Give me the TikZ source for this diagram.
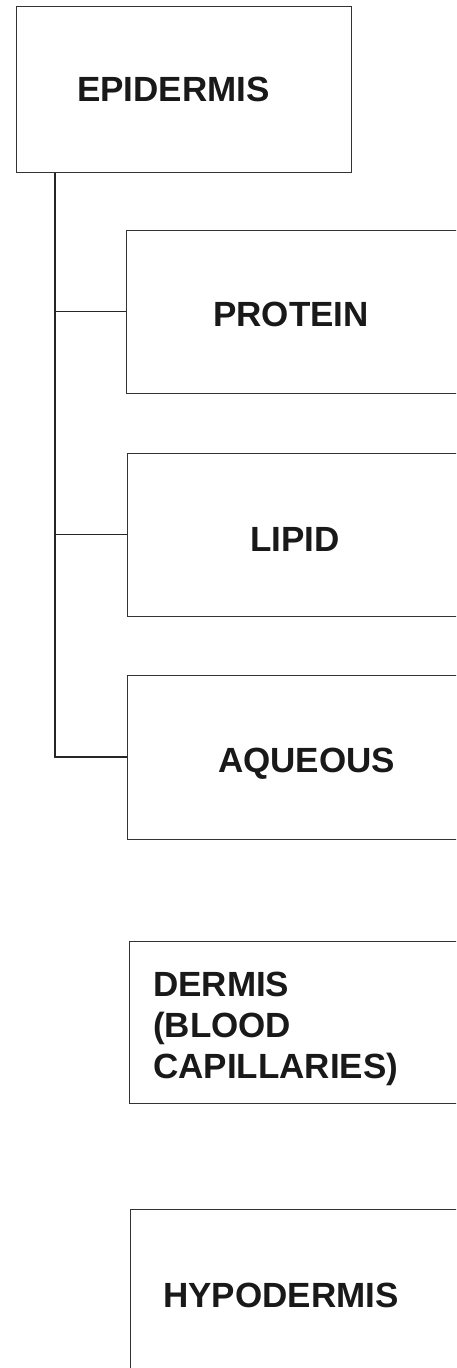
\documentclass[tikz,border=0pt]{standalone}
\usepackage{fontspec}
\setmainfont{Liberation Sans}
\begin{document}
\begin{tikzpicture}[x=1pt,y=-1pt,
  box/.style={draw=black!80,line width=1pt,rectangle,inner sep=0pt},
  lbl/.style={font=\bfseries\fontsize{35}{41}\selectfont,inner sep=0pt,anchor=base west,align=left,text=black!90},
  conn/.style={draw=black!85,line width=1.1pt}]
\useasboundingbox (0,0) rectangle (456,1368);
\fill[white] (0,0) rectangle (456,1368);
\clip (0,0) rectangle (456,1368);
% boxes
\node[box,minimum width=335pt,minimum height=166pt] (epi) at (183.5,89) {};
\node[box,minimum width=354pt,minimum height=163pt] (prot) at (303,311.5) {};
\node[box,minimum width=354pt,minimum height=163pt] (lip) at (304,534.5) {};
\node[box,minimum width=354pt,minimum height=164pt] (aq) at (304,757) {};
\node[box,minimum width=352pt,minimum height=162pt] (derm) at (305,1022) {};
\node[box,minimum width=350pt,minimum height=200pt] (hypo) at (305,1309) {};
% labels
\node[lbl] (tepi) at (77,101) {EPIDERMIS};
\node[lbl] (tprot) at (213,326) {PROTEIN};
\node[lbl] (tlip) at (250,551) {LIPID};
\node[lbl] (taq) at (218,772) {AQUEOUS};
\node[lbl] (tderm) at (153,1078) {DERMIS\\(BLOOD\\CAPILLARIES)};
\node[lbl] (thypo) at (163,1307) {HYPODERMIS};
% connectors
\coordinate (trunk) at (55,0);
\draw[conn] (epi.south -| trunk) |- (aq.west);
\draw[conn] (trunk |- prot.west) -- (prot.west);
\draw[conn] (trunk |- lip.west) -- (lip.west);
\end{tikzpicture}
\end{document}
